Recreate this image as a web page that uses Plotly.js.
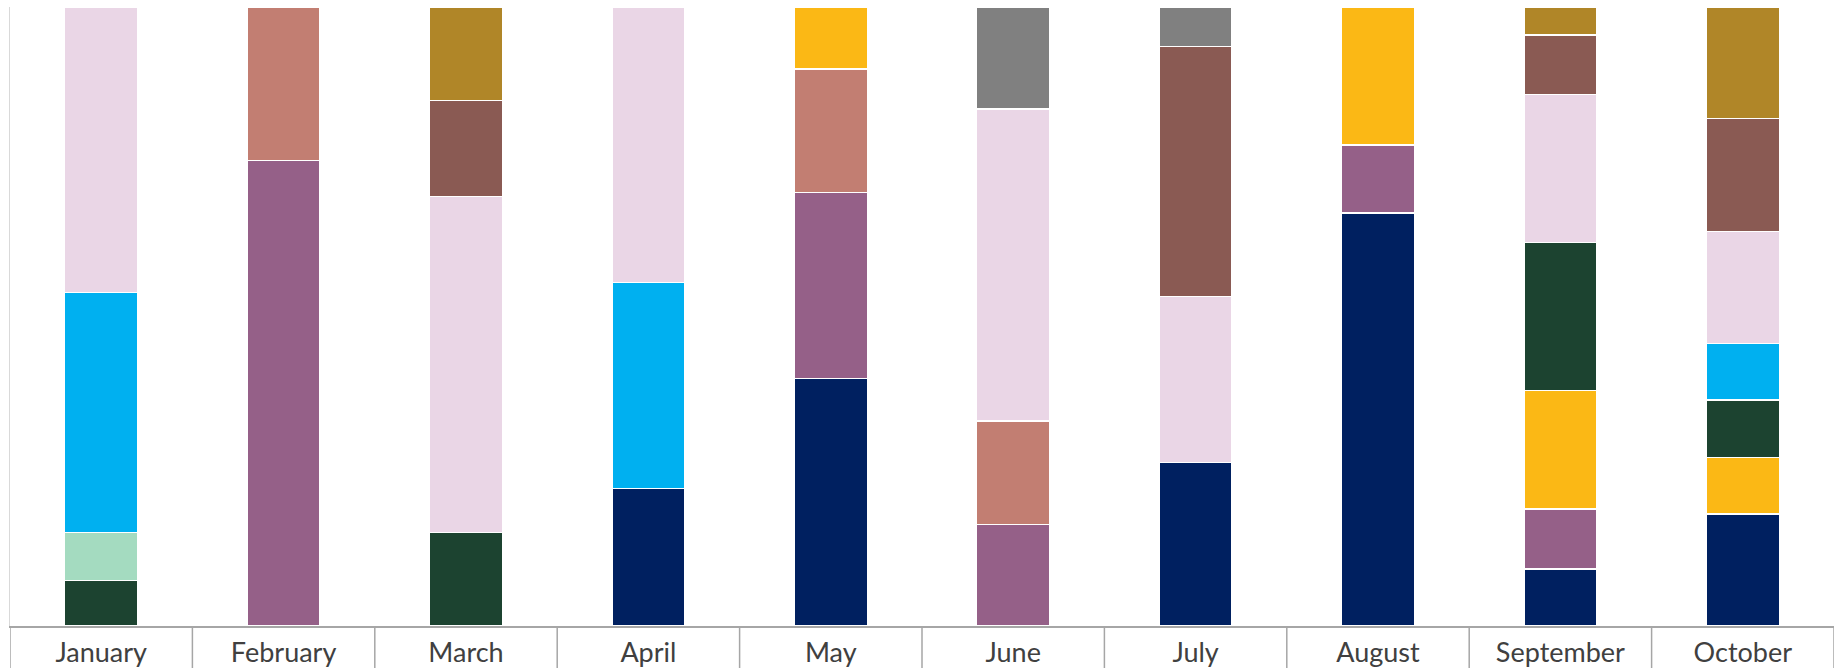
<!DOCTYPE html>
<html>
<head>
<meta charset="utf-8">
<script src="https://cdn.plot.ly/plotly-3.0.1.min.js"></script>
<style>html,body{margin:0;padding:0;background:#fff;}#chart{width:1836px;height:668px;}</style>
</head>
<body>
<div id="chart"></div>
<script>
const months = ["January","February","March","April","May","June","July","August","September","October"];

// Share of each month (fractions), one array per coloured series, bottom to top
const navy      = [0,     0,     0,     0.222, 0.400, 0,     0.264, 0.667, 0.092, 0.181];
const purple    = [0,     0.752, 0,     0,     0.300, 0.164, 0,     0.110, 0.097, 0];
const salmon    = [0,     0.248, 0,     0,     0.200, 0.167, 0,     0,     0,     0];
const yellow    = [0,     0,     0,     0,     0.100, 0,     0,     0.223, 0.191, 0.091];
const darkGreen = [0.073, 0,     0.151, 0,     0,     0,     0,     0,     0.239, 0.093];
const mint      = [0.078, 0,     0,     0,     0,     0,     0,     0,     0,     0];
const cyan      = [0.388, 0,     0,     0.333, 0,     0,     0,     0,     0,     0.091];
const pink      = [0.461, 0,     0.543, 0.445, 0,     0.504, 0.268, 0,     0.240, 0.181];
const brown     = [0,     0,     0.155, 0,     0,     0,     0.404, 0,     0.096, 0.183];
const gold      = [0,     0,     0.151, 0,     0,     0,     0,     0,     0.045, 0.180];
const grey      = [0,     0,     0,     0,     0,     0.165, 0.064, 0,     0,     0];

const seriesNames  = ["S1","S2","S3","S4","S5","S6","S7","S8","S9","S10","S11"];
const seriesValues = [navy, purple, salmon, yellow, darkGreen, mint, cyan, pink, brown, gold, grey];
const seriesColors = ["#002060","#956088","#C27E72","#FBB815","#1C4330","#A4DBC0","#00B0F0","#EAD6E6","#8A5A53","#B08628","#808080"];

const traces = seriesValues.map((vals, i) => ({
  type: "bar",
  name: seriesNames[i],
  x: months,
  y: vals,
  marker: {color: seriesColors[i], line: {color: "#ffffff", width: 1.3}},
  hoverinfo: "x+y+name"
}));

// category boundary separators below the axis (Excel-style)
const shapes = [];
for (let i = 0; i <= months.length; i++) {
  shapes.push({
    type: "line", xref: "x", yref: "paper",
    x0: i - 0.5, x1: i - 0.5, y0: 0, y1: -0.1,
    line: {color: "#A6A6A6", width: 1.5}
  });
}

const layout = {
  width: 1836, height: 668,
  margin: {l: 10, r: 2, t: 7, b: 42},
  paper_bgcolor: "#ffffff", plot_bgcolor: "#ffffff",
  barmode: "stack", barnorm: "fraction",
  bargap: 0.6,
  showlegend: false,
  xaxis: {
    type: "category",
    range: [-0.5, 9.5],
    showline: true, linecolor: "#A6A6A6", linewidth: 1.5,
    ticks: "", showgrid: false, zeroline: false,
    ticklabelstandoff: 2,
    tickfont: {family: "Lato, 'Open Sans', sans-serif", size: 27, color: "#404040"},
    fixedrange: true
  },
  yaxis: {
    range: [0, 1],
    showline: true, linecolor: "#D9D9D9", linewidth: 1.2,
    showticklabels: false, showgrid: false, zeroline: false, ticks: "",
    fixedrange: true
  },
  shapes: shapes
};

Plotly.newPlot("chart", traces, layout, {displayModeBar: false, staticPlot: true});
</script>
</body>
</html>
